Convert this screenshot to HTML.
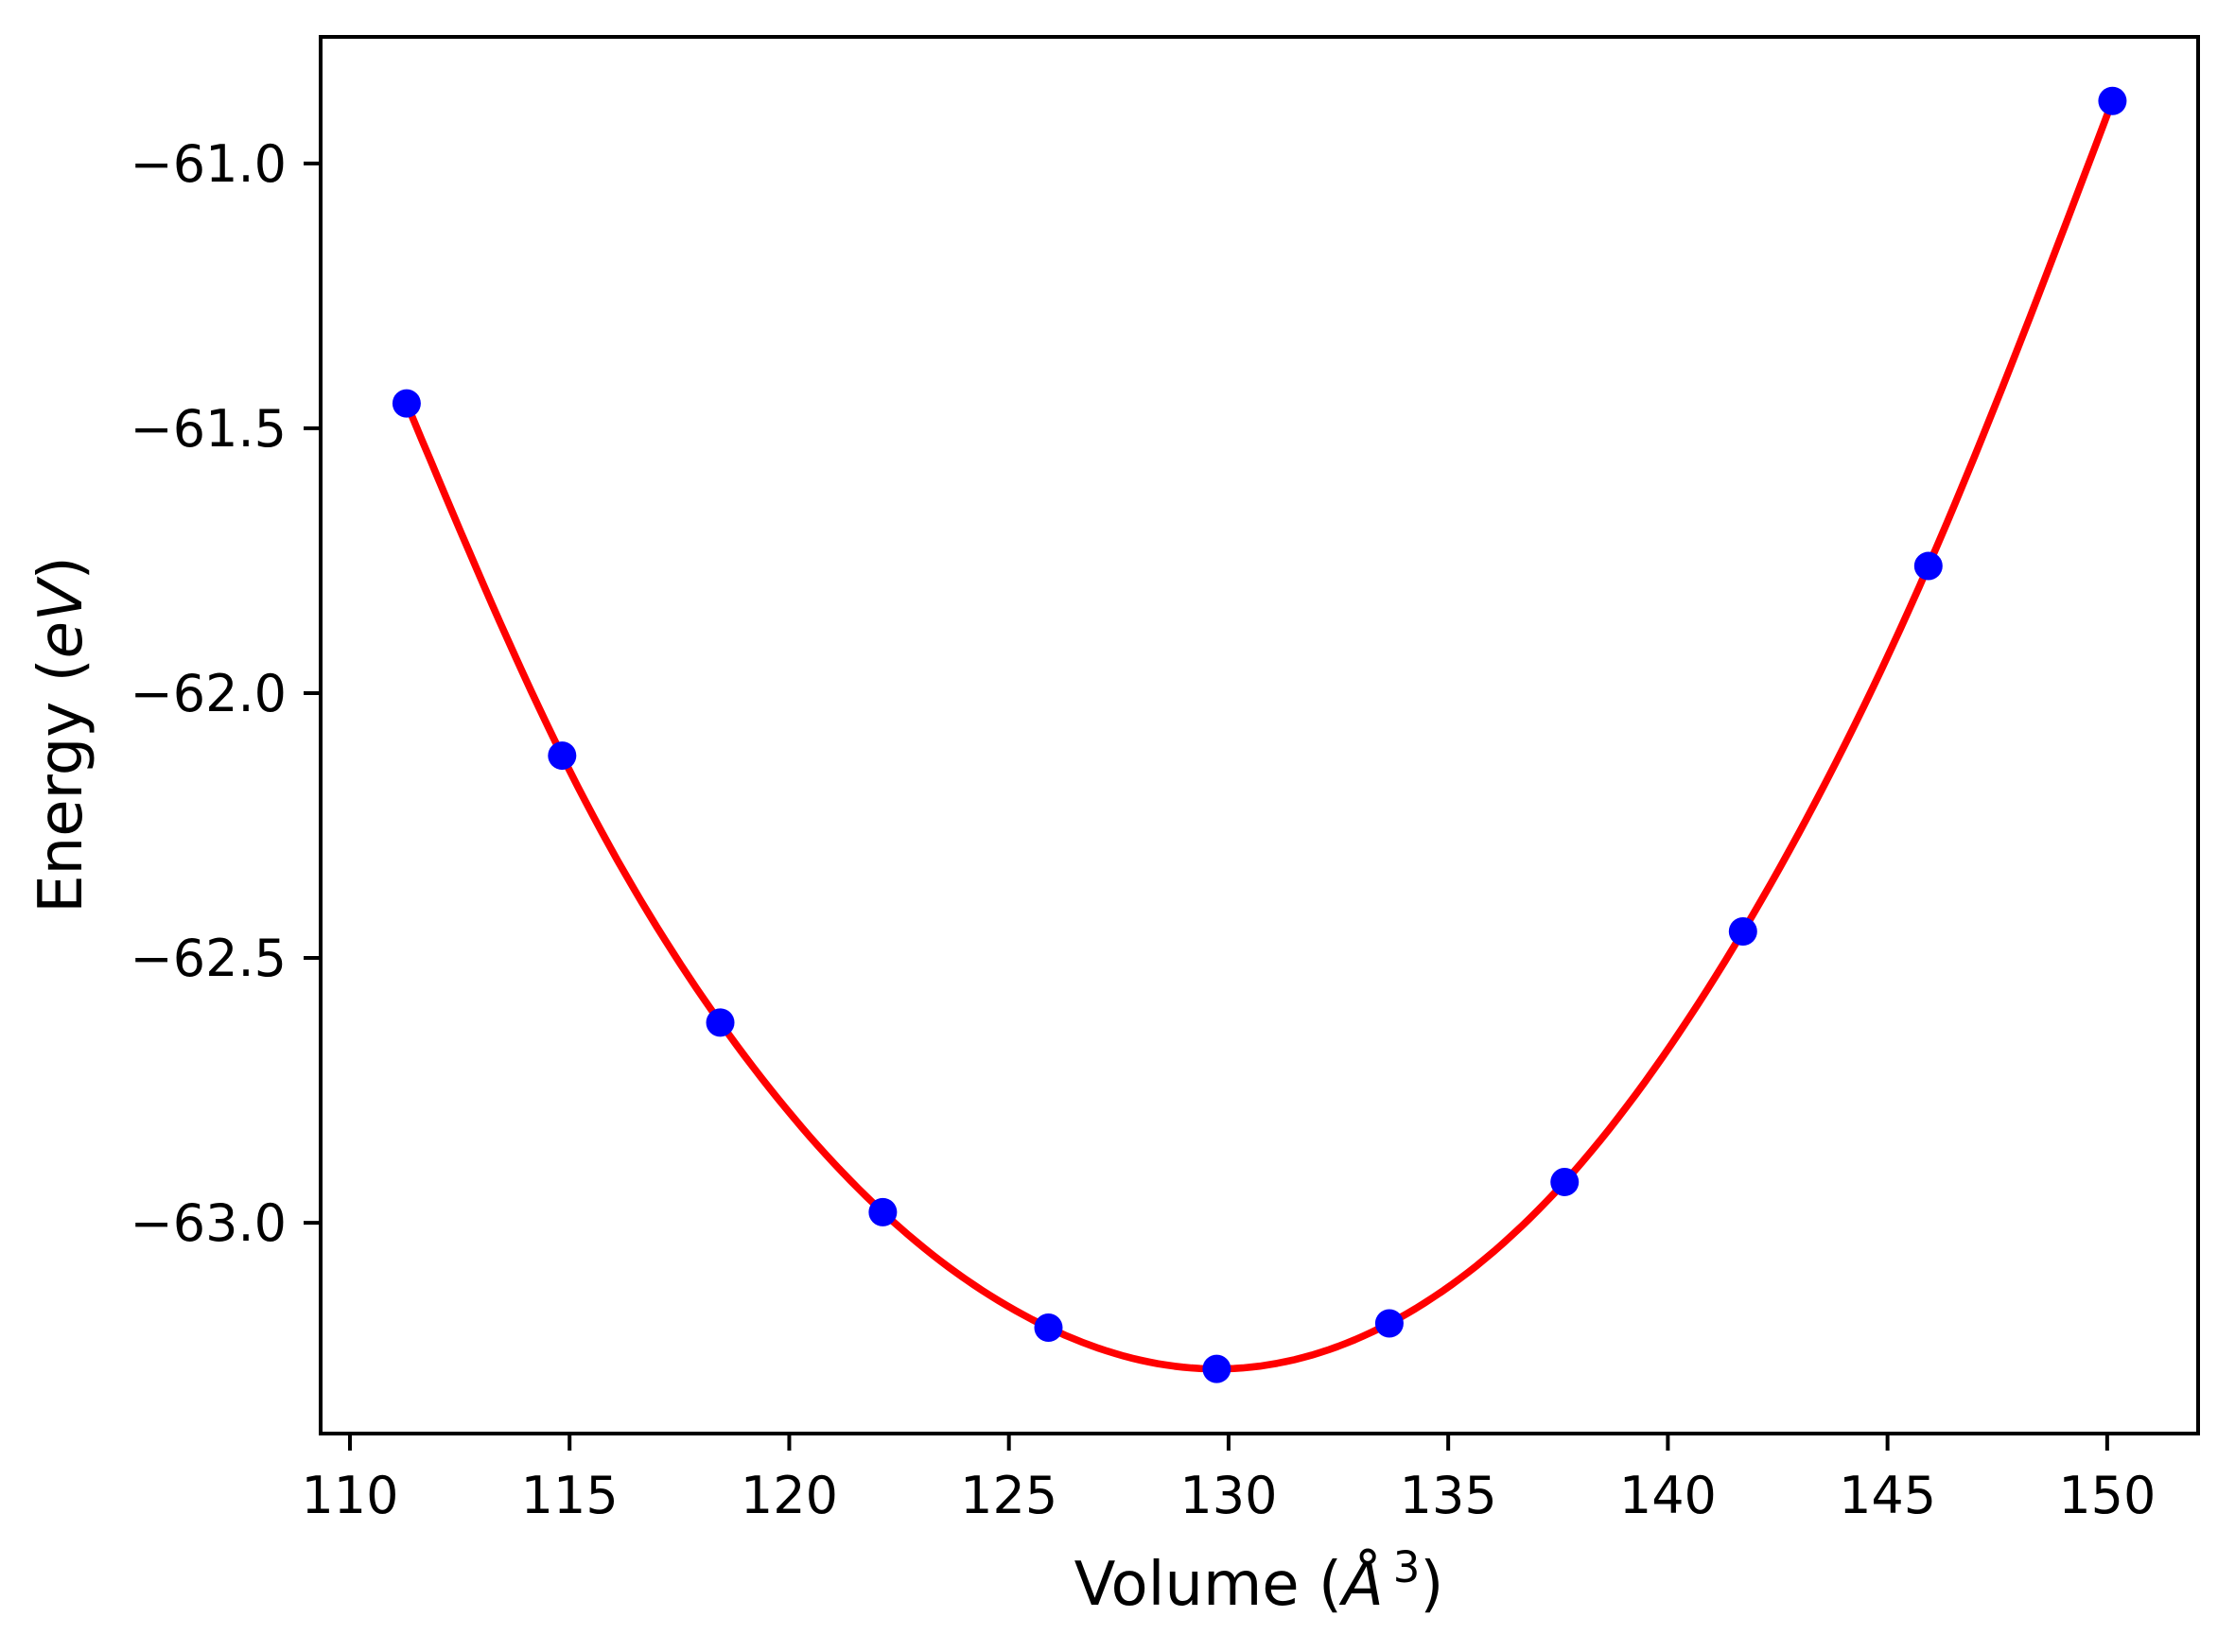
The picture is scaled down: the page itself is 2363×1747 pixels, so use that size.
<!DOCTYPE html>
<html><head><meta charset="utf-8"><style>
html,body{margin:0;padding:0;background:#fff;}
svg{display:block;font-family:"DejaVu Sans","Liberation Sans",sans-serif;}
</style></head><body>
<svg id="chart" width="2363" height="1747" viewBox="0 0 2363 1747" xmlns="http://www.w3.org/2000/svg">
<rect width="2363" height="1747" fill="#fff"/>
<g id="plot"></g>
<rect x="339" y="39" width="1985" height="1477" fill="none" stroke="#000" stroke-width="4"/>
<text x="1331" y="1697" font-size="64" text-anchor="middle">Volume (<tspan font-style="italic">Å</tspan><tspan font-size="45" dx="10" dy="-24">3</tspan><tspan dy="24">)</tspan></text>
<text transform="translate(86,777) rotate(-90)" font-size="64" text-anchor="middle">Energy (<tspan font-style="italic">eV</tspan>)</text>
</svg>
<script>
const volumes = [111.29, 114.83, 118.43, 122.13, 125.90, 129.73, 133.66, 137.65, 141.71, 145.93, 150.12];
const energies = [-61.453, -62.118, -62.622, -62.980, -63.198, -63.276, -63.190, -62.923, -62.450, -61.760, -60.882];
const xTicks = [110, 115, 120, 125, 130, 135, 140, 145, 150];
const yTicks = [-61.0, -61.5, -62.0, -62.5, -63.0];

const NS = "http://www.w3.org/2000/svg";
const L = 339, R = 2324, T = 39, B = 1516;
const xMin = 109.333, xMax = 152.07, yMin = -63.398, yMax = -60.761;
const xs = v => L + (v - xMin) / (xMax - xMin) * (R - L);
const ys = v => B - (v - yMin) / (yMax - yMin) * (B - T);
const g = document.getElementById('plot');
const svg = document.getElementById('chart');

function mk(tag, attrs, parent) {
  const e = document.createElementNS(NS, tag);
  for (const k in attrs) e.setAttribute(k, attrs[k]);
  (parent || g).appendChild(e);
  return e;
}

const n = volumes.length;
const h = [], al = [], l = [1], mu = [0], z = [0], c = new Array(n).fill(0), b = [], d = [];
for (let i = 0; i < n - 1; i++) h.push(volumes[i + 1] - volumes[i]);
for (let i = 1; i < n - 1; i++) al[i] = 3 / h[i] * (energies[i + 1] - energies[i]) - 3 / h[i - 1] * (energies[i] - energies[i - 1]);
for (let i = 1; i < n - 1; i++) {
  l[i] = 2 * (volumes[i + 1] - volumes[i - 1]) - h[i - 1] * mu[i - 1];
  mu[i] = h[i] / l[i];
  z[i] = (al[i] - h[i - 1] * z[i - 1]) / l[i];
}
for (let j = n - 2; j >= 0; j--) {
  c[j] = z[j] - mu[j] * c[j + 1];
  b[j] = (energies[j + 1] - energies[j]) / h[j] - h[j] * (c[j + 1] + 2 * c[j]) / 3;
  d[j] = (c[j + 1] - c[j]) / (3 * h[j]);
}
let pts = [];
for (let j = 0; j < n - 1; j++) {
  for (let s = 0; s < 20; s++) {
    const t = h[j] * s / 20;
    const v = energies[j] + b[j] * t + c[j] * t * t + d[j] * t * t * t;
    pts.push(xs(volumes[j] + t).toFixed(1) + ',' + ys(v).toFixed(1));
  }
}
pts.push(xs(volumes[n - 1]).toFixed(1) + ',' + ys(energies[n - 1]).toFixed(1));
const line = mk('polyline', {points: pts.join(' '), fill: 'none', stroke: '#ff0000', 'stroke-width': 7.6, 'stroke-linejoin': 'round'});



volumes.forEach((v, i) => {
  const p = mk('circle', {cx: xs(v), cy: ys(energies[i]), r: 15, fill: '#0000ff'});
  
  
});

xTicks.forEach(t => {
  const x = xs(t);
  const tk = mk('line', {x1: x, x2: x, y1: B, y2: B + 18, stroke: '#000', 'stroke-width': 4}, svg);
  
  
  const lb = mk('text', {x: x, y: 1600, 'font-size': 54, 'text-anchor': 'middle'}, svg);
  lb.textContent = String(t);
  
  
});
yTicks.forEach(t => {
  const y = ys(t);
  const tk = mk('line', {x1: L - 18, x2: L, y1: y, y2: y, stroke: '#000', 'stroke-width': 4}, svg);
  
  
  const lb = mk('text', {x: 303, y: y + 19, 'font-size': 54, 'text-anchor': 'end'}, svg);
  lb.textContent = '\u2212' + Math.abs(t).toFixed(1);
  
  
});
</script>
</body></html>
